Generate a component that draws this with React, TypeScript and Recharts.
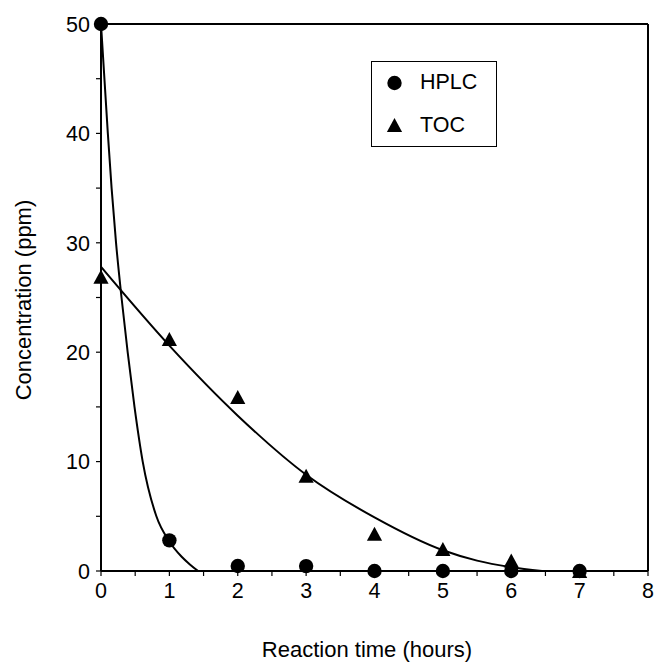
import { ComposedChart, Line, Scatter, XAxis, YAxis, ReferenceLine, Legend, Label } from 'recharts'

// measured points
const hours = [0, 1, 2, 3, 4, 5, 6, 7]
const hplcValues = [50, 2.8, 0.46, 0.45, 0, 0, 0, 0]
const tocValues = [26.9, 21.2, 15.9, 8.7, 3.4, 2.0, 0.95, 0]

// fitted curves
const hplcFitX = [0, 0.1, 0.155, 0.22, 0.3, 0.39, 0.49, 0.61, 0.81, 1.0, 1.18, 1.3, 1.42]
const hplcFitY = [50, 40, 35, 30, 25, 20, 15, 10, 5, 2.7, 1.3, 0.6, 0]
const tocFitX = [0, 1, 2, 3, 4, 5, 5.5, 6, 6.45]
const tocFitY = [27.8, 20.6, 14.2, 8.8, 4.9, 1.9, 0.95, 0.35, 0]

const xTicks = [0, 0.5, 1, 1.5, 2, 2.5, 3, 3.5, 4, 4.5, 5, 5.5, 6, 6.5, 7, 7.5, 8]
const yTicks = [0, 5, 10, 15, 20, 25, 30, 35, 40, 45, 50]

const seriesNames = ['HPLC', 'TOC']

const FONT = '"Liberation Sans", Arial, sans-serif'

const hplcPoints = hours.map((x, i) => ({ x, y: hplcValues[i] }))
const tocPoints = hours.map((x, i) => ({ x, y: tocValues[i] }))
const hplcFit = hplcFitX.map((x, i) => ({ x, y: hplcFitY[i] }))
const tocFit = tocFitX.map((x, i) => ({ x, y: tocFitY[i] }))

const Circle = ({ cx, cy }: any) => <circle cx={cx} cy={cy} r={7.2} fill="#000" />
const Triangle = ({ cx, cy }: any) => (
  <path d={`M${cx},${cy - 7} L${cx + 7.6},${cy + 7} L${cx - 7.6},${cy + 7} Z`} fill="#000" />
)

const XTick = ({ x, y, payload }: any) => {
  if (payload.value % 1 !== 0) return null
  return (
    <text x={x} y={y} dy="0.72em" textAnchor="middle" fontSize={21.5} fontFamily={FONT} fill="#000">
      {payload.value}
    </text>
  )
}

const YTick = ({ x, y, payload }: any) => {
  if (payload.value % 10 !== 0) return null
  return (
    <text x={x} y={y} dy="0.36em" textAnchor="end" fontSize={21.5} fontFamily={FONT} fill="#000">
      {payload.value}
    </text>
  )
}

const LegendBox = () => (
  <div style={{ width: 126, height: 86, border: '1px solid #000', background: '#fff', boxSizing: 'border-box' }}>
    <svg width={124} height={84}>
      <Circle cx={22.5} cy={21} />
      <text x={48} y={27} fontSize={21.5} fontFamily={FONT} fill="#000">{seriesNames[0]}</text>
      <Triangle cx={22.5} cy={63} />
      <text x={48} y={70} fontSize={21.5} fontFamily={FONT} fill="#000">{seriesNames[1]}</text>
    </svg>
  </div>
)

export default function App() {
  return (
    <div style={{ position: 'absolute', left: 0, top: 0, width: 655, height: 662, background: '#fff' }}>
      <ComposedChart width={655} height={662} margin={{ top: 24, right: 7, bottom: 0, left: 0 }}>
        <XAxis
          dataKey="x"
          type="number"
          domain={[0, 8]}
          ticks={xTicks}
          interval={0}
          height={91}
          tick={<XTick />}
          tickSize={5}
          tickMargin={7}
          axisLine={{ stroke: '#000', strokeWidth: 2 }}
          tickLine={{ stroke: '#000', strokeWidth: 1.2 }}
        >
          <Label
            content={() => (
              <text x={367} y={657} textAnchor="middle" fontSize={22} fontFamily={FONT} fill="#000">
                Reaction time (hours)
              </text>
            )}
          />
        </XAxis>
        <YAxis
          dataKey="y"
          type="number"
          domain={[0, 50]}
          ticks={yTicks}
          interval={0}
          width={101}
          tick={<YTick />}
          tickSize={5}
          tickMargin={6}
          axisLine={{ stroke: '#000', strokeWidth: 2 }}
          tickLine={{ stroke: '#000', strokeWidth: 1.2 }}
        >
          <Label
            content={() => (
              <text
                x={31}
                y={300}
                transform="rotate(-90, 31, 300)"
                textAnchor="middle"
                fontSize={22}
                fontFamily={FONT}
                fill="#000"
              >
                Concentration (ppm)
              </text>
            )}
          />
        </YAxis>
        <ReferenceLine y={50} stroke="#000" strokeWidth={2} />
        <ReferenceLine x={8} stroke="#000" strokeWidth={2} />
        <Line
          data={hplcFit}
          dataKey="y"
          type="monotone"
          stroke="#000"
          strokeWidth={2}
          dot={false}
          activeDot={false}
          isAnimationActive={false}
          legendType="none"
        />
        <Line
          data={tocFit}
          dataKey="y"
          type="monotone"
          stroke="#000"
          strokeWidth={2}
          dot={false}
          activeDot={false}
          isAnimationActive={false}
          legendType="none"
        />
        <Scatter data={tocPoints} dataKey="y" name="TOC" shape={<Triangle />} isAnimationActive={false} />
        <Scatter data={hplcPoints} dataKey="y" name="HPLC" shape={<Circle />} isAnimationActive={false} />
        <Legend
          layout="vertical"
          align="center"
          verticalAlign="middle"
          content={<LegendBox />}
          wrapperStyle={{ left: 371, top: 61, width: 126, height: 86 }}
        />
      </ComposedChart>
    </div>
  )
}
